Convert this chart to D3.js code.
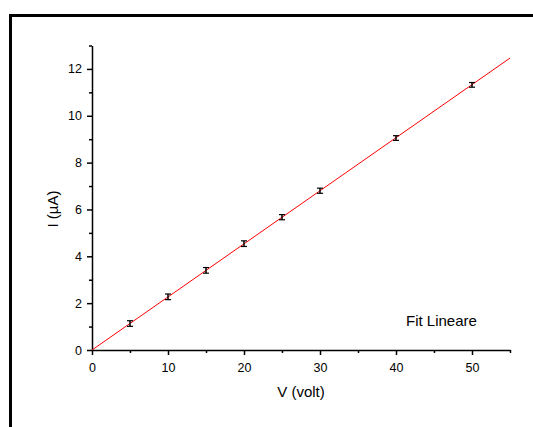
<!DOCTYPE html>
<html>
<head>
  <meta charset="UTF-8">
  <title>Fit Lineare</title>
  <script src="https://cdn.jsdelivr.net/npm/d3@7/dist/d3.min.js"></script>
  <style>
    body { margin:0; background:#fff; }
    text { font-family: Arial, "Liberation Sans", sans-serif; fill:#000; }
  </style>
</head>
<body>
<svg id="svg" width="533" height="427"></svg>
<script>
// data
var volt = [5, 10, 15, 20, 25, 30, 40, 50];
var curr = [1.13, 2.27, 3.40, 4.54, 5.67, 6.80, 9.05, 11.32];
var err  = [0.12, 0.12, 0.12, 0.12, 0.11, 0.11, 0.10, 0.10];
var fitX = [0, 55];
var slope = 0.2266;
var xTicks = [0, 10, 20, 30, 40, 50];
var yTicks = [0, 2, 4, 6, 8, 10, 12];

var svg = d3.select('#svg');

// outer frame
svg.append('path')
  .attr('d', 'M10.5,427V15.5H533')
  .attr('fill', 'none')
  .attr('stroke', '#000')
  .attr('stroke-width', 3);

var x = d3.scaleLinear().domain([0, 55]).range([92, 510]);
var y = d3.scaleLinear().domain([0, 13]).range([350, 45.5]);

// minor ticks
svg.append('g')
  .attr('transform', 'translate(0,350)')
  .call(d3.axisBottom(x).tickValues([5, 15, 25, 35, 45, 55]).tickSize(3).tickFormat(''))
  .call(function(g){ g.select('.domain').remove(); });
svg.append('g')
  .attr('transform', 'translate(92,0)')
  .call(d3.axisLeft(y).tickValues([1, 3, 5, 7, 9, 11, 13]).tickSize(3).tickFormat(''))
  .call(function(g){ g.select('.domain').remove(); });

var xa = svg.append('g')
  .attr('transform', 'translate(0,350)')
  .call(d3.axisBottom(x).tickValues(xTicks).tickSize(5).tickPadding(8).tickSizeOuter(0));
var ya = svg.append('g')
  .attr('transform', 'translate(92,0)')
  .call(d3.axisLeft(y).tickValues(yTicks).tickSize(5).tickPadding(5).tickSizeOuter(0));

svg.selectAll('.tick text')
  .style('font-family', 'Arial, "Liberation Sans", sans-serif')
  .style('font-size', '12.5px');
svg.selectAll('.domain, .tick line').attr('stroke-width', 1.5);

// fit line
svg.append('line')
  .attr('x1', x(fitX[0])).attr('y1', y(slope * fitX[0]))
  .attr('x2', x(fitX[1])).attr('y2', y(slope * fitX[1]))
  .attr('stroke', '#f00')
  .attr('stroke-width', 1);

// error bars
var eb = svg.append('g').selectAll('g')
  .data(volt.map(function(v, i){ return {v: v, c: curr[i], e: err[i]}; }))
  .enter().append('g');
eb.append('line')
  .attr('x1', function(d){ return x(d.v); })
  .attr('x2', function(d){ return x(d.v); })
  .attr('y1', function(d){ return y(d.c - d.e); })
  .attr('y2', function(d){ return y(d.c + d.e); })
  .attr('stroke', '#000').attr('stroke-width', 1.5);
eb.selectAll('.cap')
  .data(function(d){ return [d.c - d.e, d.c + d.e].map(function(c){ return {v: d.v, c: c}; }); })
  .enter().append('line')
  .attr('x1', function(d){ return x(d.v) - 3; })
  .attr('x2', function(d){ return x(d.v) + 3; })
  .attr('y1', function(d){ return y(d.c); })
  .attr('y2', function(d){ return y(d.c); })
  .attr('stroke', '#000').attr('stroke-width', 1.2);

// labels
svg.append('text')
  .attr('x', 301).attr('y', 397)
  .attr('text-anchor', 'middle')
  .style('font-size', '15px')
  .text('V (volt)');
svg.append('text')
  .attr('transform', 'translate(58,209)rotate(-90)')
  .attr('text-anchor', 'middle')
  .style('font-size', '15px')
  .text('I (\u00b5A)');
svg.append('text')
  .attr('x', 406).attr('y', 326)
  .style('font-size', '15px')
  .text('Fit Lineare');
</script>
</body>
</html>
